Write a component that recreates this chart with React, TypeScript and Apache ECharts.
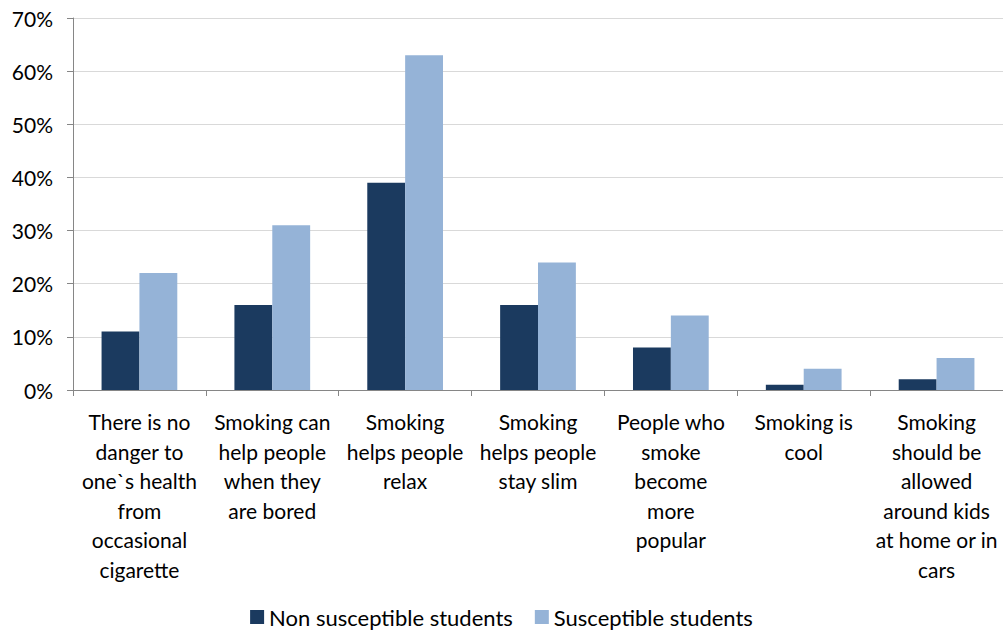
import React, { useEffect, useRef } from "react";
import * as echarts from "echarts";

const categories = [
  "There is no\ndanger to\none`s health\nfrom\noccasional\ncigarette",
  "Smoking can\nhelp people\nwhen they\nare bored",
  "Smoking\nhelps people\nrelax",
  "Smoking\nhelps people\nstay slim",
  "People who\nsmoke\nbecome\nmore\npopular",
  "Smoking is\ncool",
  "Smoking\nshould be\nallowed\naround kids\nat home or in\ncars",
];
const nonSusceptible = [11, 16, 39, 16, 8, 1, 2];
const susceptible = [22, 31, 63, 24, 14, 4, 6];
const seriesNames = ["Non susceptible students", "Susceptible students"];

const FONT = "Lato, 'Open Sans', sans-serif";

export default function App() {
  const ref = useRef<HTMLDivElement>(null);
  useEffect(() => {
    if (!ref.current) return;
    const chart = echarts.init(ref.current, null, { renderer: "svg" });
    chart.setOption({
      animation: false,
      textStyle: { fontFamily: FONT },
      grid: { left: 73, right: 0, top: 18, bottom: 244, containLabel: false },
      legend: {
        bottom: 1,
        left: "center",
        itemWidth: 14,
        itemHeight: 14,
        itemGap: 22,
        icon: "rect",
        textStyle: { fontFamily: FONT, fontSize: 22, color: "#000" },
        data: seriesNames,
      },
      xAxis: {
        type: "category",
        data: categories,
        axisLine: { lineStyle: { color: "#868686", width: 1 } },
        axisTick: { show: true, alignWithLabel: false, length: 6, lineStyle: { color: "#868686" } },
        axisLabel: {
          interval: 0,
          margin: 17,
          fontFamily: FONT,
          fontSize: 21,
          color: "#000",
          lineHeight: 29.5,
          align: "center",
        },
      },
      yAxis: {
        type: "value",
        min: 0,
        max: 70,
        interval: 10,
        axisLine: { show: true, lineStyle: { color: "#868686", width: 1 } },
        axisTick: { show: true, length: 6, lineStyle: { color: "#868686" } },
        splitLine: { lineStyle: { color: "#D9D9D9", width: 1 } },
        axisLabel: {
          formatter: "{value}%",
          fontFamily: FONT,
          fontSize: 21,
          color: "#000",
          margin: 20,
        },
      },
      series: [
        {
          name: seriesNames[0],
          type: "bar",
          data: nonSusceptible,
          barGap: "0%",
          barCategoryGap: "43%",
          itemStyle: { color: "#1B3A5F" },
        },
        {
          name: seriesNames[1],
          type: "bar",
          data: susceptible,
          itemStyle: { color: "#95B3D7" },
        },
      ],
    });
    return () => chart.dispose();
  }, []);
  return (
    <div
      ref={ref}
      style={{ position: "fixed", left: 0, top: 0, width: 1003, height: 634, background: "#fff" }}
    />
  );
}
